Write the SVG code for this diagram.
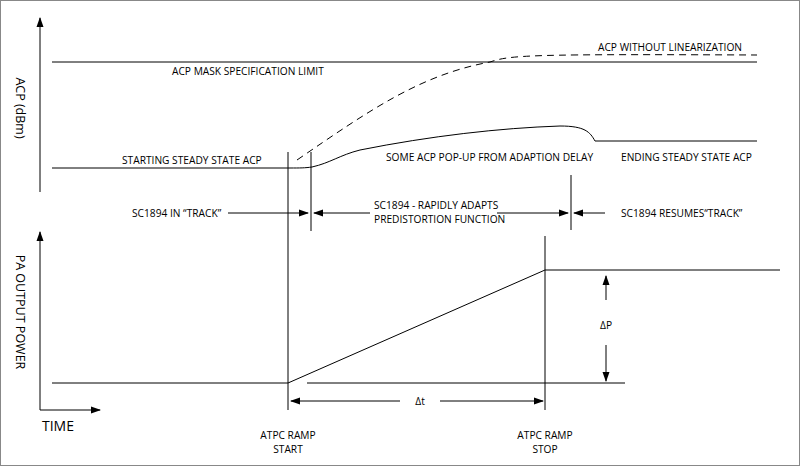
<svg xmlns="http://www.w3.org/2000/svg" width="800" height="466" viewBox="0 0 800 466">
<style>
.l{stroke:#000;stroke-width:1;fill:none}
.d{stroke:#000;stroke-width:1;fill:none;stroke-dasharray:7,5}
text{font-family:"Open Sans","Liberation Sans",sans-serif;font-size:10.2px;fill:#000}
.b{font-size:12.5px}
.t{font-size:14px}
</style>
<defs>
<marker id="a" markerWidth="10" markerHeight="8" refX="9" refY="4" orient="auto" markerUnits="userSpaceOnUse"><path d="M0,0.5 L10,4 L0,7.5z" fill="#000"/></marker>
</defs>
<rect x="0.5" y="0.5" width="799" height="465" fill="#fff" stroke="#888"/>
<g id="connectors">
<path class="l" d="M40,192 V18" marker-end="url(#a)"/>
<path class="l" d="M40,410 V232" marker-end="url(#a)"/>
<path class="l" d="M40,410 H100" marker-end="url(#a)"/>
<path class="l" d="M52,62 H757"/>
<path class="l" d="M52,168 H290 C300,168 305,168 312,167 C330,163 340,155 360,150 C430,136 500,128 560,126 C585,126 590,132 595,141 H757"/>
<path class="d" d="M297,160 C370,110 420,75 490,62 C510,55 530,54 757,55"/>
<path class="l" d="M288,152 V410"/>
<path class="l" d="M311,152 V231"/>
<path class="l" d="M571,175 V230"/>
<path class="l" d="M545,236 V410"/>
<path class="l" d="M228,213 H308" marker-end="url(#a)"/>
<path class="l" d="M370,213 H314" marker-end="url(#a)"/>
<path class="l" d="M497,213 H568" marker-end="url(#a)"/>
<path class="l" d="M605,213 H574" marker-end="url(#a)"/>
<path class="l" d="M52,383 H288 L545,270 H780"/>
<path class="l" d="M307,383 H625"/>
<path class="l" d="M606,300 V276" marker-end="url(#a)"/>
<path class="l" d="M606,345 V381" marker-end="url(#a)"/>
<path class="l" d="M400,401 H291" marker-end="url(#a)"/>
<path class="l" d="M440,401 H543" marker-end="url(#a)"/>
</g>
<g id="labels">
<text x="172" y="75">ACP MASK SPECIFICATION LIMIT</text>
<text x="598" y="51">ACP WITHOUT LINEARIZATION</text>
<text x="122" y="164">STARTING STEADY STATE ACP</text>
<text x="386" y="161">SOME ACP POP-UP FROM ADAPTION DELAY</text>
<text x="621" y="161">ENDING STEADY STATE ACP</text>
<text x="132" y="217">SC1894 IN “TRACK”</text>
<text x="374" y="209">SC1894 - RAPIDLY ADAPTS</text>
<text x="374" y="223">PREDISTORTION FUNCTION</text>
<text x="621" y="217">SC1894 RESUMES“TRACK”</text>
<text x="606" y="329" text-anchor="middle">ΔP</text>
<text x="420" y="405" text-anchor="middle">Δt</text>
<text x="288" y="439" text-anchor="middle">ATPC RAMP</text>
<text x="288" y="453" text-anchor="middle">START</text>
<text x="545" y="439" text-anchor="middle">ATPC RAMP</text>
<text x="545" y="453" text-anchor="middle">STOP</text>
<text class="t" x="42" y="431">TIME</text>
<text class="b" transform="translate(16,108) rotate(90)" text-anchor="middle">ACP (dBm)</text>
<text class="b" transform="translate(16,312) rotate(90)" text-anchor="middle">PA OUTPUT POWER</text>
</g>
</svg>
